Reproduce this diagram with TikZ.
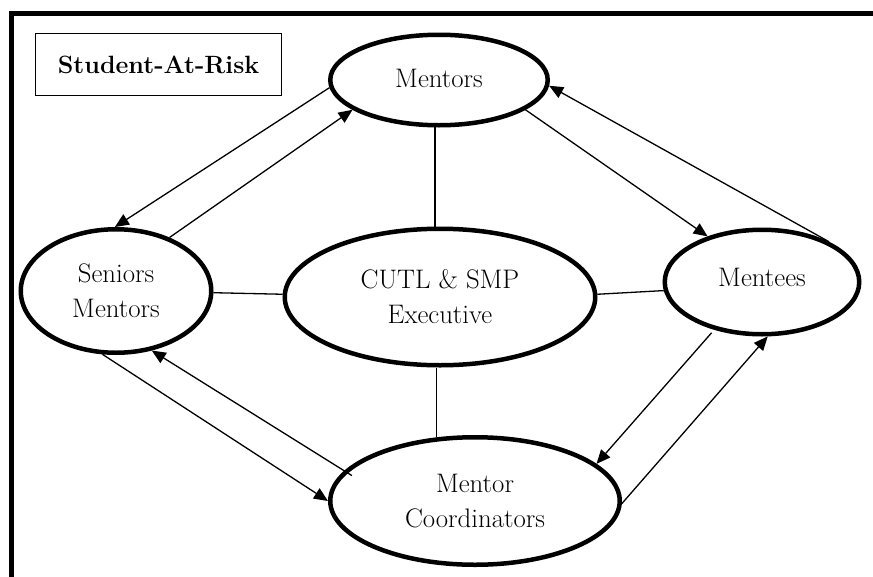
\documentclass[tikz,border=0pt]{standalone}
\usetikzlibrary{shapes.geometric,arrows.meta}
\begin{document}
\begin{tikzpicture}[x=1pt,y=-1pt,
  oval/.style={ellipse,draw,line width=4.5pt,inner sep=0pt,align=center,
    font=\fontsize{26.8}{35}\selectfont},
  link/.style={line width=1.3pt},
  flow/.style={line width=1.3pt,-{Triangle[length=14pt,width=12pt]}}]
\useasboundingbox (0,0) rectangle (873,576);
% outer frame
\coordinate (fbl) at (11.5,590);
\coordinate (ftl) at (11.5,13);
\coordinate (ftr) at (890,13);
\draw[line width=5pt] (fbl) -- (ftl) -- (ftr);
% title box
\node[draw,line width=1.3pt,minimum width=246pt,minimum height=62pt,inner sep=0pt,
  font=\fontsize{25}{30}\selectfont\bfseries] (sar) at (158.5,64.5) {Student-At-Risk};
% ellipses
\node[oval,minimum width=217.5pt,minimum height=90.5pt] (mentors) at (439,80) {\raisebox{3pt}{Mentors}};
\node[oval,minimum width=190.5pt,minimum height=123.5pt] (seniors) at (116,291) {Seniors\\Mentors};
\node[oval,minimum width=310.5pt,minimum height=136.5pt] (cutl) at (440,297) {CUTL \& SMP\\Executive};
\node[oval,minimum width=194.5pt,minimum height=104.5pt] (mentees) at (762,282) {\raisebox{9pt}{Mentees}};
\node[oval,minimum width=289.5pt,minimum height=127.5pt] (coord) at (475,501) {Mentor\\Coordinators};
% undirected links
\draw[link] (mentors.265) -- (mentors.265 |- cutl.north);
\draw[link] (cutl.south -| coord.121) -- (coord.121);
\draw[link] (seniors.359) -- (cutl.179.5);
\draw[link] (cutl.1.5) -- (mentees.185.8);
% arrows
\draw[flow] (mentors.184) -- (seniors.91);
\draw[flow] (seniors.45) -- (mentors.199);
\draw[flow] (mentors.341) -- (mentees.140);
\draw[flow] (mentees.31.7) -- (mentors.357);
\draw[flow,shorten <=4pt] (mentees.225.5) -- (coord.17.6);
\draw[flow] (coord.359) -- (mentees.276);
\draw[flow] (seniors.258.5) -- (coord.180.4);
\draw[flow,shorten <=-9pt] (coord.167) -- (seniors.301.4);
\end{tikzpicture}
\end{document}
